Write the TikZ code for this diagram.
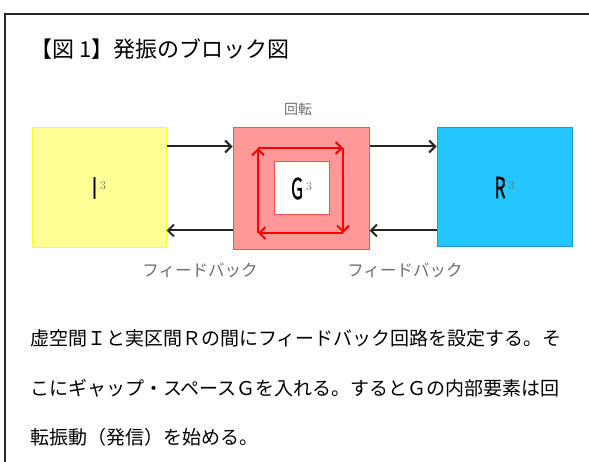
\documentclass[tikz,border=0pt]{standalone}
\usepackage{fontspec}
\usetikzlibrary{arrows.meta,calc}
\newfontfamily\jp{Noto Sans CJK JP}
\newfontfamily\jpletter[FakeBold=1.3]{Noto Sans CJK JP}
\definecolor{frameline}{RGB}{40,40,40}
\definecolor{yfill}{RGB}{255,255,150}
\definecolor{ydraw}{RGB}{255,255,40}
\definecolor{rfill}{RGB}{255,153,153}
\definecolor{rdraw}{RGB}{255,80,80}
\definecolor{bfill}{RGB}{36,198,255}
\definecolor{bdraw}{RGB}{30,150,215}
\definecolor{labelgray}{RGB}{110,110,110}
\tikzset{
  blockbox/.style={rectangle, inner sep=0pt, line width=1pt},
  flowarrow/.style={line width=2pt, black!85, -{Straight Barb[length=6pt,width=12pt,line width=2pt]}},
  looparrow/.style={line width=2pt, red, -{Straight Barb[length=6pt,width=12pt,line width=2pt]}},
  graylabel/.style={inner sep=0pt, text=labelgray, font=\jp\fontsize{16.5}{18}\selectfont},
  bodytext/.style={inner sep=0pt, anchor=west, font=\jp\fontsize{19}{22}\selectfont},
}
\newcommand{\bigletter}[1]{\scalebox{0.6}[1]{\jpletter\fontsize{29}{29}\selectfont #1}\hspace{3pt}\raisebox{9pt}{\rmfamily\fontsize{12}{12}\selectfont\color{labelgray}3}}
\begin{document}
\begin{tikzpicture}[x=1pt,y=-1pt]
\useasboundingbox (0,0) rectangle (589,462);
% frame
\draw[frameline, line width=2pt] (5,462) -- (5,14) -- (590,14);
% title
\node[inner sep=0pt, anchor=west, font=\jp\fontsize{22}{24}\selectfont] (title) at (30,49) {【図 1】発振のブロック図};
% boxes
\node[blockbox, fill=yfill, draw=ydraw, minimum width=134pt, minimum height=120pt] (I) at (99,188) {\bigletter{I}};
\node[blockbox, fill=rfill, draw=rdraw, minimum width=136pt, minimum height=122pt] (G) at (301,189) {};
\node[blockbox, fill=white, draw=rdraw, minimum width=55pt, minimum height=53pt] (Gin) at (301.5,188.5) {\bigletter{G}};
\node[blockbox, fill=bfill, draw=bdraw, minimum width=135pt, minimum height=119pt] (R) at (504.5,187.5) {\bigletter{R}};
% rotation loop
\coordinate (tl) at (258,148);
\coordinate (tr) at (343,148);
\coordinate (br) at (343,233);
\coordinate (bl) at (258,233);
\draw[looparrow] (tl) -- (tr);
\draw[looparrow] (tr) -- (br);
\draw[looparrow] (br) -- (bl);
\draw[looparrow] (bl) -- (tl);
% flow arrows
\draw[flowarrow] ([yshift=-19pt]I.north east) -- ([yshift=-19pt]G.north west);
\draw[flowarrow] ([yshift=-19pt]G.north east) -- ([yshift=-19pt]R.north west);
\draw[flowarrow] ([yshift=-103pt]G.north west) -- ([yshift=-103pt]I.north east);
\draw[flowarrow] ([yshift=-103pt]R.north west) -- ([yshift=-103pt]G.north east);
% labels
\node[graylabel, font=\jp\fontsize{14}{16}\selectfont] (rot) at (298,109) {回転};
\node[graylabel] (fb1) at (200,270) {フィードバック};
\node[graylabel] (fb2) at (405,270) {フィードバック};
% body text
\node[bodytext] (l1) at (30,338) {虚空間Ｉと実区間Ｒの間にフィードバック回路を設定する。そ};
\node[bodytext] (l2) at (30,388) {こにギャップ・スペースＧを入れる。するとＧの内部要素は回};
\node[bodytext] (l3) at (30,437) {転振動（発信）を始める。};
\end{tikzpicture}
\end{document}
